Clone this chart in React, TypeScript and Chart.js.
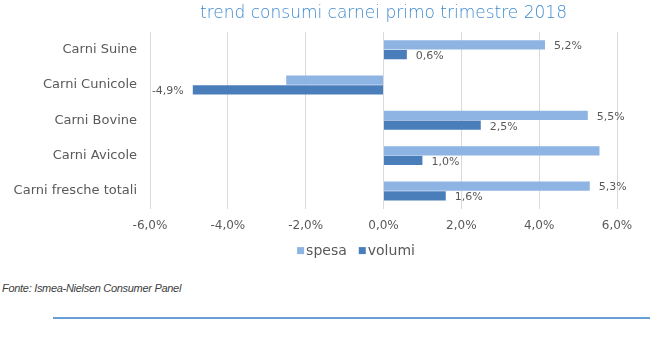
import React, { useEffect, useRef } from "react";
import { Chart, registerables } from "chart.js";

Chart.register(...registerables);

const categories = ["Carni Suine", "Carni Cunicole", "Carni Bovine", "Carni Avicole", "Carni fresche totali"];
const seriesNames = ["spesa", "volumi"];
// bar lengths as drawn in the reference (%)
const spesa = [4.15, -2.5, 5.25, 5.55, 5.3];
const volumi = [0.6, -4.9, 2.5, 1.0, 1.6];
// printed data labels
const spesaLabels = ["5,2%", "", "5,5%", "", "5,3%"];
const volumiLabels = ["0,6%", "-4,9%", "2,5%", "1,0%", "1,6%"];
const xMin = -6;
const xMax = 6;
const xStep = 2;

const titleText = "trend consumi carnei primo trimestre 2018";
const sourceText = "Fonte: Ismea-Nielsen Consumer Panel";

const colors = ["#8EB4E3", "#4A7EBB"];
const valueLabels = [spesaLabels, volumiLabels];
const FONT = "'DejaVu Sans', sans-serif";

const barLabelPlugin = {
  id: "barLabels",
  afterDatasetsDraw(chart: any) {
    const ctx = chart.ctx;
    chart.data.datasets.forEach((ds: any, di: number) => {
      const meta = chart.getDatasetMeta(di);
      meta.data.forEach((el: any, i: number) => {
        const text = valueLabels[di][i];
        if (!text) return;
        const v = ds.data[i];
        ctx.save();
        ctx.font = `11px ${FONT}`;
        ctx.fillStyle = "#595959";
        ctx.textBaseline = "middle";
        if (v >= 0) {
          ctx.textAlign = "left";
          ctx.fillText(text, el.x + 9, el.y + 1.5);
        } else {
          ctx.textAlign = "right";
          ctx.fillText(text, el.x - 9, el.y + 1.5);
        }
        ctx.restore();
      });
    });
  },
};

const legendPlugin = {
  id: "customLegend",
  afterDraw(chart: any) {
    const ctx = chart.ctx;
    const box = 7;
    const gap = 2;
    const itemGap = 12;
    ctx.save();
    ctx.font = `14px ${FONT}`;
    const items = chart.data.datasets.map((ds: any) => ({
      label: ds.label,
      color: ds.backgroundColor,
      w: box + gap + ctx.measureText(ds.label).width,
    }));
    const total = items.reduce((s: number, it: any) => s + it.w, 0) + itemGap * (items.length - 1);
    const cx = chart.width / 2 + 31;
    const cy = chart.chartArea.bottom + 42;
    let x = cx - total / 2;
    items.forEach((it: any) => {
      ctx.fillStyle = it.color;
      ctx.fillRect(x, cy - box / 2, box, box);
      ctx.fillStyle = "#595959";
      ctx.textAlign = "left";
      ctx.textBaseline = "middle";
      ctx.fillText(it.label, x + box + gap, cy + 1);
      x += it.w + itemGap;
    });
    ctx.restore();
  },
};

export default function App() {
  const canvasRef = useRef<HTMLCanvasElement | null>(null);

  useEffect(() => {
    if (!canvasRef.current) return;
    const chart = new Chart(canvasRef.current, {
      type: "bar",
      data: {
        labels: categories,
        datasets: [
          { label: seriesNames[0], data: spesa, backgroundColor: colors[0] },
          { label: seriesNames[1], data: volumi, backgroundColor: colors[1] },
        ],
      },
      options: {
        indexAxis: "y",
        animation: false,
        responsive: true,
        maintainAspectRatio: false,
        layout: { padding: { left: 14, right: 33, top: 0, bottom: 22 } },
        datasets: {
          bar: { categoryPercentage: 0.55, barPercentage: 0.95 },
        },
        plugins: {
          legend: { display: false },
          tooltip: { enabled: false },
          title: {
            display: true,
            text: titleText,
            fullSize: false,
            color: "#3E8AD0",
            font: { family: FONT, size: 17, weight: "200" },
            padding: { top: 3, bottom: 8.6 },
          },
        },
        scales: {
          x: {
            min: xMin,
            max: xMax,
            grid: { color: "#D9D9D9", drawTicks: false },
            border: { display: false },
            ticks: {
              stepSize: xStep,
              padding: 10,
              color: "#595959",
              font: { family: FONT, size: 12 },
              callback: (v: any) => Number(v).toFixed(1).replace(".", ",") + "%",
            },
          },
          y: {
            grid: { display: false, drawTicks: false },
            border: { display: false },
            ticks: {
              padding: 13,
              color: "#595959",
              font: { family: FONT, size: 13 },
            },
            afterFit: (scale: any) => {
              scale.width = 136;
            },
          },
        },
      },
      plugins: [barLabelPlugin, legendPlugin],
    });
    return () => chart.destroy();
  }, []);

  return (
    <div style={{ position: "fixed", left: 0, top: 0, width: 650, height: 350, background: "#fff" }}>
      <div style={{ position: "absolute", left: 0, top: 0, width: 650, height: 265 }}>
        <canvas ref={canvasRef} />
      </div>
      <div
        style={{
          position: "absolute",
          left: 2,
          top: 281,
          fontFamily: "'Liberation Sans', Arial, sans-serif",
          fontStyle: "italic",
          fontSize: 11,
          letterSpacing: "-0.3px",
          color: "#404040",
          whiteSpace: "nowrap",
          lineHeight: "14px",
        }}
      >
        {sourceText}
      </div>
      <div
        style={{
          position: "absolute",
          left: 53,
          top: 317,
          width: 597,
          height: 0,
          borderTop: "2px solid #6A9FD4",
        }}
      />
    </div>
  );
}
